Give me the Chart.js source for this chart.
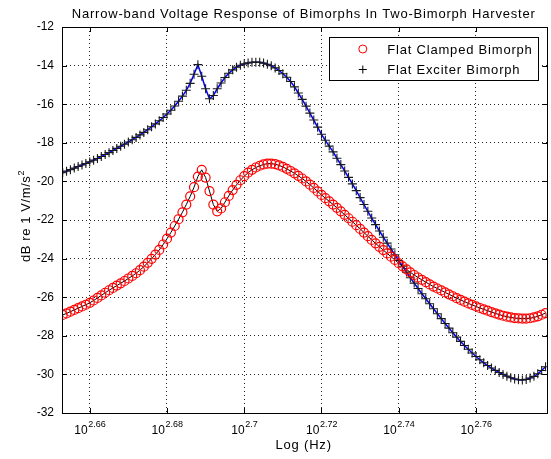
<!DOCTYPE html>
<html>
<head>
<meta charset="utf-8">
<script src="https://cdn.jsdelivr.net/npm/chart.js@4/dist/chart.umd.min.js"></script>
<style>
  html, body { margin: 0; padding: 0; background: #fff; overflow: hidden; }
  #wrap { width: 553px; height: 459px; }
</style>
</head>
<body>
<div id="wrap"><canvas id="resposta"></canvas></div>
<script>
const logFreq = [
  2.653, 2.654, 2.655, 2.656, 2.657, 2.658, 2.659, 2.660, 2.661, 2.662,
  2.663, 2.664, 2.665, 2.666, 2.667, 2.668, 2.669, 2.670, 2.671, 2.672,
  2.673, 2.674, 2.675, 2.676, 2.677, 2.678, 2.679, 2.680, 2.681, 2.682,
  2.683, 2.684, 2.685, 2.686, 2.687, 2.688, 2.689, 2.690, 2.691, 2.692,
  2.693, 2.694, 2.695, 2.696, 2.697, 2.698, 2.699, 2.700, 2.701, 2.702,
  2.703, 2.704, 2.705, 2.706, 2.707, 2.708, 2.709, 2.710, 2.711, 2.712,
  2.713, 2.714, 2.715, 2.716, 2.717, 2.718, 2.719, 2.720, 2.721, 2.722,
  2.723, 2.724, 2.725, 2.726, 2.727, 2.728, 2.729, 2.730, 2.731, 2.732,
  2.733, 2.734, 2.735, 2.736, 2.737, 2.738, 2.739, 2.740, 2.741, 2.742,
  2.743, 2.744, 2.745, 2.746, 2.747, 2.748, 2.749, 2.750, 2.751, 2.752,
  2.753, 2.754, 2.755, 2.756, 2.757, 2.758, 2.759, 2.760, 2.761, 2.762,
  2.763, 2.764, 2.765, 2.766, 2.767, 2.768, 2.769, 2.770, 2.771, 2.772,
  2.773, 2.774, 2.775, 2.776, 2.777, 2.778
];

const clampedDb = [
  -26.92, -26.84, -26.75, -26.66, -26.57, -26.48, -26.39, -26.29, -26.17, -26.04,
  -25.91, -25.77, -25.64, -25.52, -25.40, -25.28, -25.16, -25.03, -24.90, -24.76,
  -24.60, -24.42, -24.22, -24.01, -23.79, -23.55, -23.27, -22.97, -22.65, -22.31,
  -21.96, -21.60, -21.20, -20.78, -20.30, -19.75, -19.40, -19.80, -20.50, -21.20,
  -21.55, -21.40, -21.08, -20.75, -20.45, -20.18, -19.94, -19.73, -19.55, -19.40,
  -19.28, -19.19, -19.12, -19.08, -19.08, -19.11, -19.17, -19.25, -19.35, -19.46,
  -19.58, -19.71, -19.85, -20.00, -20.17, -20.34, -20.52, -20.70, -20.87, -21.03,
  -21.20, -21.37, -21.55, -21.73, -21.91, -22.09, -22.27, -22.46, -22.65, -22.84,
  -23.03, -23.21, -23.39, -23.56, -23.73, -23.90, -24.07, -24.24, -24.40, -24.56,
  -24.71, -24.85, -24.98, -25.10, -25.22, -25.34, -25.45, -25.55, -25.65, -25.75,
  -25.85, -25.95, -26.05, -26.14, -26.23, -26.32, -26.40, -26.48, -26.56, -26.63,
  -26.70, -26.77, -26.84, -26.90, -26.96, -27.01, -27.05, -27.08, -27.10, -27.11,
  -27.11, -27.09, -27.05, -26.99, -26.91, -26.82
];

const exciterDb = [
  -19.55, -19.47, -19.39, -19.31, -19.23, -19.15, -19.07, -18.99, -18.90, -18.81,
  -18.71, -18.61, -18.51, -18.40, -18.29, -18.18, -18.07, -17.96, -17.84, -17.72,
  -17.59, -17.46, -17.32, -17.17, -17.02, -16.86, -16.69, -16.51, -16.31, -16.09,
  -15.85, -15.58, -15.28, -14.92, -14.45, -13.95, -14.55, -15.20, -15.72, -15.55,
  -15.20, -14.90, -14.62, -14.40, -14.22, -14.08, -13.98, -13.91, -13.86, -13.83,
  -13.82, -13.83, -13.87, -13.93, -14.01, -14.12, -14.25, -14.42, -14.60, -14.82,
  -15.10, -15.42, -15.75, -16.10, -16.46, -16.82, -17.19, -17.56, -17.87, -18.17,
  -18.47, -18.80, -19.13, -19.46, -19.79, -20.13, -20.48, -20.84, -21.20, -21.55,
  -21.90, -22.24, -22.57, -22.89, -23.20, -23.50, -23.80, -24.10, -24.40, -24.70,
  -24.99, -25.27, -25.55, -25.82, -26.08, -26.34, -26.60, -26.86, -27.11, -27.36,
  -27.60, -27.84, -28.07, -28.29, -28.50, -28.70, -28.89, -29.07, -29.24, -29.40,
  -29.54, -29.67, -29.79, -29.90, -30.00, -30.09, -30.17, -30.24, -30.28, -30.29,
  -30.26, -30.19, -30.10, -29.97, -29.80, -29.60
];

const xTicks = [2.66, 2.68, 2.70, 2.72, 2.74, 2.76];
const xTickExp = ['2.66', '2.68', '2.7', '2.72', '2.74', '2.76'];
const yTicks = [-32, -30, -28, -26, -24, -22, -20, -18, -16, -14, -12];

const seriesNames = ['Flat Clamped Bimorph', 'Flat Exciter Bimorph'];
const titulo = 'Narrow-band Voltage Response of Bimorphs In Two-Bimorph Harvester';
const fonte = '"Liberation Sans", Arial, sans-serif';

const pares = (vals) => vals.map((v, i) => ({ x: logFreq[i], y: v }));

// titles, log tick labels, frame with inward ticks and the boxed legend
const matlabLook = {
  id: 'matlabLook',
  afterDatasetsDraw(chart) {
    const { ctx, chartArea: a, scales } = chart;
    ctx.save();
    ctx.strokeStyle = '#000';
    ctx.lineWidth = 1;
    ctx.beginPath();
    xTicks.forEach(t => {
      const px = Math.round(scales.x.getPixelForValue(t)) + 0.5;
      ctx.moveTo(px, a.bottom); ctx.lineTo(px, a.bottom - 5);
      ctx.moveTo(px, a.top); ctx.lineTo(px, a.top + 5);
    });
    yTicks.forEach(t => {
      const py = Math.round(scales.y.getPixelForValue(t)) + 0.5;
      ctx.moveTo(a.left, py); ctx.lineTo(a.left + 5, py);
      ctx.moveTo(a.right, py); ctx.lineTo(a.right - 5, py);
    });
    ctx.stroke();
    ctx.strokeRect(Math.round(a.left) + 0.5, Math.round(a.top) + 0.5,
      Math.round(a.right - a.left), Math.round(a.bottom - a.top));
    ctx.restore();
  },
  afterDraw(chart) {
    const { ctx, chartArea: a, scales } = chart;
    const cx = (a.left + a.right) / 2;
    ctx.save();
    ctx.fillStyle = '#000';
    ctx.letterSpacing = '0.8px';

    ctx.font = '13px ' + fonte;
    ctx.textAlign = 'center';
    ctx.textBaseline = 'alphabetic';
    ctx.fillText(titulo, cx - 1, 18);
    ctx.fillText('Log (Hz)', cx - 1, 449);

    // x tick labels 10^n
    ctx.letterSpacing = '0px';
    ctx.textAlign = 'left';
    xTicks.forEach((t, i) => {
      const px = scales.x.getPixelForValue(t);
      ctx.font = '12px ' + fonte;
      const wBase = ctx.measureText('10').width;
      ctx.font = '9px ' + fonte;
      const wExp = ctx.measureText(xTickExp[i]).width;
      const x0 = px - (wBase + wExp) / 2;
      ctx.font = '12px ' + fonte;
      ctx.fillText('10', x0, 434);
      ctx.font = '9px ' + fonte;
      ctx.fillText(xTickExp[i], x0 + wBase + 0.5, 426.5);
    });

    // y label with superscript
    ctx.save();
    ctx.translate(30, 216);
    ctx.rotate(-Math.PI / 2);
    ctx.letterSpacing = '0.6px';
    ctx.font = '13px ' + fonte;
    const main = 'dB re 1 V/m/s';
    const wMain = ctx.measureText(main).width;
    ctx.font = '9px ' + fonte;
    const wSup = ctx.measureText('2').width;
    const s0 = -(wMain + wSup) / 2;
    ctx.font = '13px ' + fonte;
    ctx.fillText(main, s0, 0);
    ctx.font = '9px ' + fonte;
    ctx.fillText('2', s0 + wMain, -6);
    ctx.restore();

    // legend box
    const bx = a.right - 218, by = a.top + 10, bw = 209, bh = 43;
    ctx.fillStyle = '#fff';
    ctx.fillRect(bx, by, bw, bh);
    ctx.strokeStyle = '#000';
    ctx.lineWidth = 1;
    ctx.strokeRect(Math.round(bx) + 0.5, Math.round(by) + 0.5, bw, bh);

    const mx = bx + 33.5;
    ctx.strokeStyle = '#ff0000';
    ctx.beginPath();
    ctx.arc(mx, by + 12, 4, 0, Math.PI * 2);
    ctx.stroke();
    ctx.strokeStyle = '#000';
    ctx.beginPath();
    ctx.moveTo(mx - 4, by + 32.5); ctx.lineTo(mx + 4, by + 32.5);
    ctx.moveTo(mx, by + 28.5); ctx.lineTo(mx, by + 36.5);
    ctx.stroke();

    ctx.fillStyle = '#000';
    ctx.letterSpacing = '0.8px';
    ctx.font = '13px ' + fonte;
    ctx.textAlign = 'left';
    ctx.fillText(seriesNames[0], bx + 58, by + 16.5);
    ctx.fillText(seriesNames[1], bx + 58, by + 36.5);
    ctx.restore();
  }
};

const grafico = document.getElementById('resposta').getContext('2d');

new Chart(grafico, {
  type: 'line',
  data: {
    datasets: [{
      label: seriesNames[0],
      data: pares(clampedDb),
      borderColor: '#000000',
      borderWidth: 1,
      pointStyle: 'circle',
      pointRadius: 4.5,
      pointBorderWidth: 1.2,
      pointBorderColor: '#ff0000',
      pointBackgroundColor: 'rgba(0,0,0,0)',
      tension: 0
    },
    {
      label: seriesNames[1],
      data: pares(exciterDb),
      borderColor: '#0000ff',
      borderWidth: 1.5,
      pointStyle: 'cross',
      pointRadius: 4.5,
      pointBorderWidth: 1.1,
      pointBorderColor: '#1a1a1a',
      pointBackgroundColor: '#1a1a1a',
      tension: 0
    }]
  },
  options: {
    responsive: true,
    maintainAspectRatio: false,
    devicePixelRatio: 1,
    animation: false,
    events: [],
    layout: { padding: { top: 27, right: 1, bottom: 0, left: 0 } },
    plugins: {
      legend: { display: false },
      title: { display: false },
      tooltip: { enabled: false }
    },
    scales: {
      x: {
        type: 'linear',
        min: 2.65282,
        max: 2.77846,
        afterBuildTicks: s => { s.ticks = xTicks.map(v => ({ value: v })); },
        afterFit: s => { s.height = 46; },
        ticks: { display: false },
        grid: { color: '#222', lineWidth: 1, drawTicks: false },
        border: { display: false, dash: [1, 3] }
      },
      y: {
        min: -32,
        max: -12,
        afterBuildTicks: s => { s.ticks = yTicks.map(v => ({ value: v })); },
        afterFit: s => { s.width = 62; },
        ticks: {
          color: '#000',
          padding: 8,
          font: { family: fonte, size: 12 }
        },
        grid: { color: '#222', lineWidth: 1, drawTicks: false },
        border: { display: false, dash: [1, 3] }
      }
    }
  },
  plugins: [matlabLook]
});
</script>
</body>
</html>
